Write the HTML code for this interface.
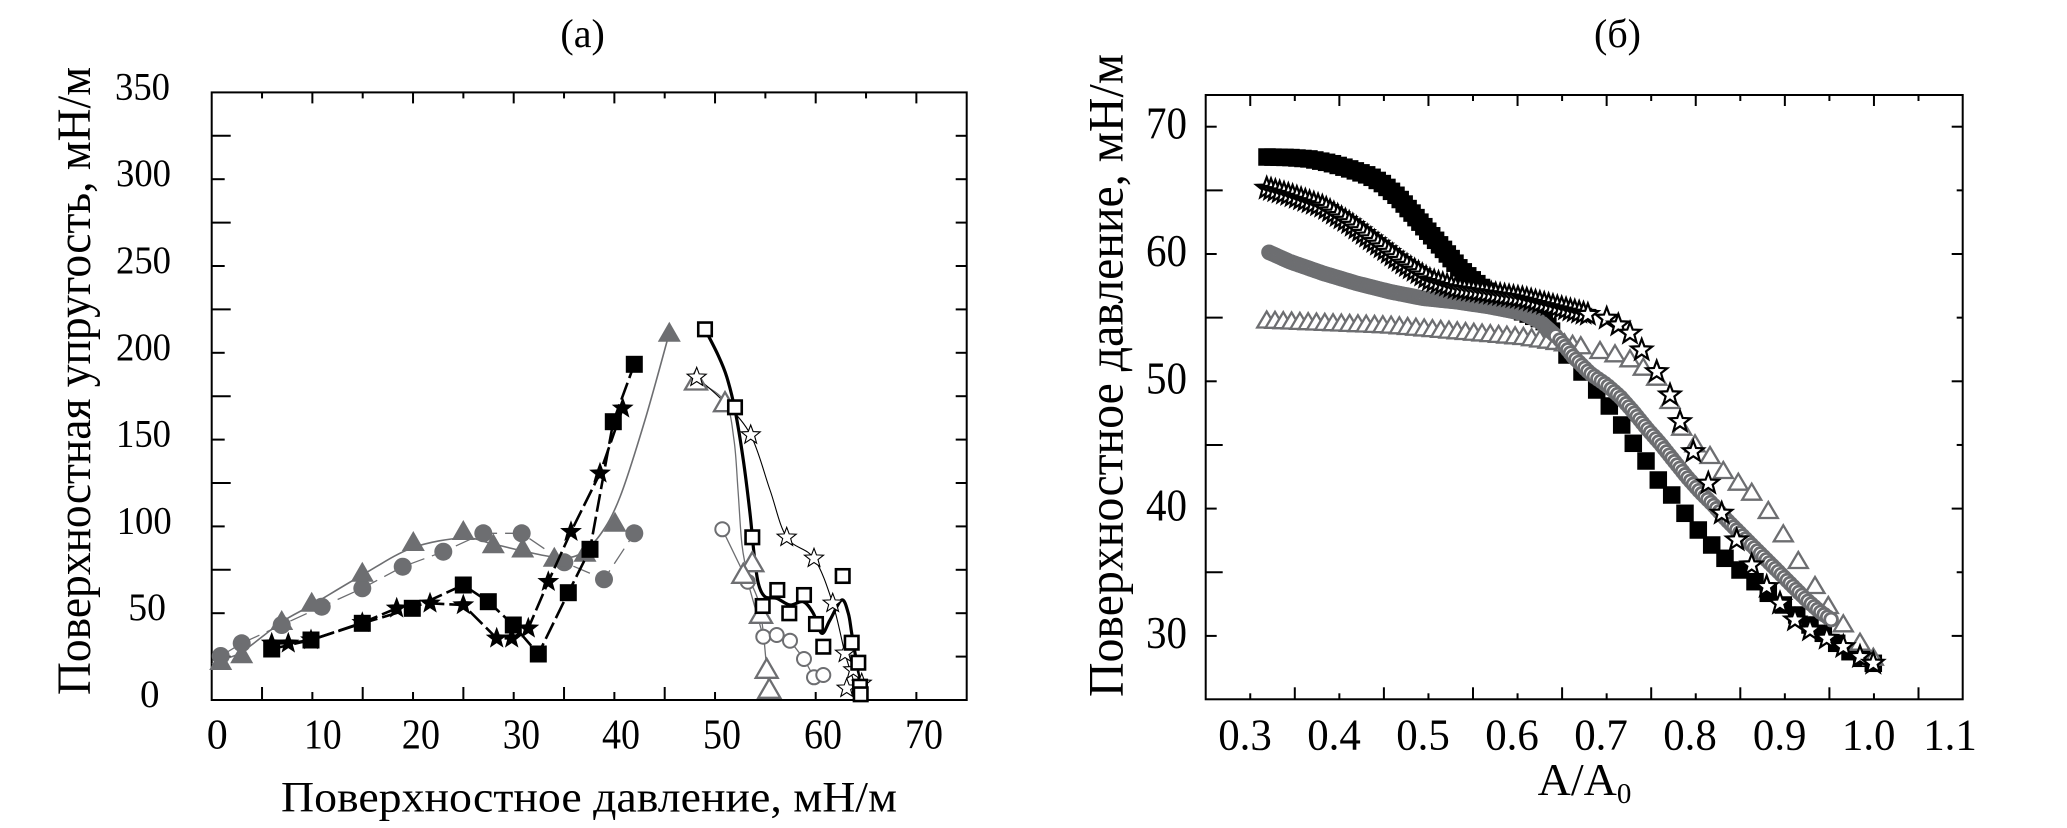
<!DOCTYPE html>
<html><head><meta charset="utf-8">
<style>
html,body{margin:0;padding:0;background:#fff;}
svg{display:block;}
text{font-family:"Liberation Serif","DejaVu Serif",serif;fill:#000;}
</style></head>
<body>
<svg id="s" xmlns="http://www.w3.org/2000/svg" width="2067" height="828" viewBox="0 0 2067 828">
<rect width="2067" height="828" fill="#fff"/>
<g id="frames" fill="none" stroke="#000" stroke-width="2">
<rect x="211.7" y="92.4" width="755" height="607.6"/>
<rect x="1205.7" y="95" width="757" height="604.3"/>
</g>
<g id="ticks" stroke="#000" stroke-width="2" fill="none"></g>
<g id="data"></g>

<!-- Left panel text -->
<g font-family="Liberation Serif, DejaVu Serif, serif">
<text x="582.6" y="47" font-size="40" text-anchor="middle">(a)</text>
<g font-size="39">
<text x="115" y="99.4" textLength="55" lengthAdjust="spacingAndGlyphs">350</text>
<text x="116" y="186.2" textLength="55" lengthAdjust="spacingAndGlyphs">300</text>
<text x="116" y="273" textLength="55" lengthAdjust="spacingAndGlyphs">250</text>
<text x="116" y="359.8" textLength="55" lengthAdjust="spacingAndGlyphs">200</text>
<text x="116" y="446.6" textLength="55" lengthAdjust="spacingAndGlyphs">150</text>
<text x="116.7" y="533.4" textLength="55" lengthAdjust="spacingAndGlyphs">100</text>
<text x="128.3" y="620.2" textLength="37.7" lengthAdjust="spacingAndGlyphs">50</text>
<text x="140" y="707">0</text>
</g>
<g font-size="42">
<text x="206.7" y="748.3">0</text>
<text x="304" y="748.3" textLength="37.7" lengthAdjust="spacingAndGlyphs">10</text>
<text x="401.7" y="748.3" textLength="38.3" lengthAdjust="spacingAndGlyphs">20</text>
<text x="502.7" y="748.3" textLength="37.3" lengthAdjust="spacingAndGlyphs">30</text>
<text x="602" y="748.3" textLength="38" lengthAdjust="spacingAndGlyphs">40</text>
<text x="703" y="748.3" textLength="38" lengthAdjust="spacingAndGlyphs">50</text>
<text x="804" y="748.3" textLength="38" lengthAdjust="spacingAndGlyphs">60</text>
<text x="905" y="748.3" textLength="38" lengthAdjust="spacingAndGlyphs">70</text>
</g>
<text x="281" y="811.7" font-size="43" textLength="616" lengthAdjust="spacingAndGlyphs">Поверхностное давление, мН/м</text>
<text transform="translate(90,695) rotate(-90)" x="0" y="0" font-size="48" textLength="628" lengthAdjust="spacingAndGlyphs">Поверхностная упругость, мН/м</text>

<!-- Right panel text -->
<text x="1617.5" y="47" font-size="40" text-anchor="middle">(б)</text>
<g font-size="45">
<text x="1146" y="138.7" textLength="41" lengthAdjust="spacingAndGlyphs">70</text>
<text x="1146" y="266" textLength="41" lengthAdjust="spacingAndGlyphs">60</text>
<text x="1146" y="393.3" textLength="41" lengthAdjust="spacingAndGlyphs">50</text>
<text x="1146" y="520.6" textLength="41" lengthAdjust="spacingAndGlyphs">40</text>
<text x="1146" y="647.9" textLength="41" lengthAdjust="spacingAndGlyphs">30</text>
</g>
<g font-size="44">
<text x="1218.2" y="749.3" textLength="53.6" lengthAdjust="spacingAndGlyphs">0.3</text>
<text x="1307.2" y="749.3" textLength="53.6" lengthAdjust="spacingAndGlyphs">0.4</text>
<text x="1396.2" y="749.3" textLength="53.6" lengthAdjust="spacingAndGlyphs">0.5</text>
<text x="1485.2" y="749.3" textLength="53.6" lengthAdjust="spacingAndGlyphs">0.6</text>
<text x="1574.2" y="749.3" textLength="53.6" lengthAdjust="spacingAndGlyphs">0.7</text>
<text x="1663.2" y="749.3" textLength="53.6" lengthAdjust="spacingAndGlyphs">0.8</text>
<text x="1752.9" y="749.3" textLength="53.6" lengthAdjust="spacingAndGlyphs">0.9</text>
<text x="1841.9" y="749.3" textLength="53.6" lengthAdjust="spacingAndGlyphs">1.0</text>
<text x="1923.2" y="749.3" textLength="53.6" lengthAdjust="spacingAndGlyphs">1.1</text>
</g>
<text x="1537.6" y="795" font-size="46">A/A<tspan font-size="29" dy="8">0</tspan></text>
<text transform="translate(1122.5,697) rotate(-90)" x="0" y="0" font-size="50" textLength="643" lengthAdjust="spacingAndGlyphs">Поверхностное давление, мН/м</text>
</g>
</svg>
<script>
(function(){
const NS='http://www.w3.org/2000/svg';
const D=document.getElementById('data');
const TK=document.getElementById('ticks');
const G='#6d6e71';
function el(tag,attrs,parent){const e=document.createElementNS(NS,tag);for(const k in attrs)e.setAttribute(k,attrs[k]);(parent||D).appendChild(e);return e;}
function A(a,b){return Object.assign({},a,b);}
function resample(pts,step){
  const out=[[pts[0][0],pts[0][1]]];let carry=0;
  for(let i=1;i<pts.length;i++){
    const x0=pts[i-1][0],y0=pts[i-1][1],x1=pts[i][0],y1=pts[i][1];
    const L=Math.hypot(x1-x0,y1-y0);if(L===0)continue;
    let t=step-carry;
    while(t<=L){out.push([x0+(x1-x0)*t/L,y0+(y1-y0)*t/L]);t+=step;}
    carry=L-(t-step);
  }
  return out;
}
function smooth(p){
  let d='M'+p[0][0]+','+p[0][1];
  for(let i=0;i<p.length-1;i++){
    const p0=p[i-1]||p[i],p1=p[i],p2=p[i+1],p3=p[i+2]||p2;
    const c1=[(p1[0]+(p2[0]-p0[0])/6).toFixed(2),(p1[1]+(p2[1]-p0[1])/6).toFixed(2)];
    const c2=[(p2[0]-(p3[0]-p1[0])/6).toFixed(2),(p2[1]-(p3[1]-p1[1])/6).toFixed(2)];
    d+='C'+c1.join(',')+' '+c2.join(',')+' '+p2[0]+','+p2[1];
  }
  return d;
}
function poly(p){return 'M'+p.map(q=>q[0]+','+q[1]).join('L');}
function sq(x,y,s,a){return el('rect',A({x:(x-s/2).toFixed(2),y:(y-s/2).toFixed(2),width:s,height:s},a));}
function tri(x,y,w,h,a){return el('polygon',A({points:x+','+(y-h/2)+' '+(x+w/2)+','+(y+h/2)+' '+(x-w/2)+','+(y+h/2)},a));}
function circ(x,y,r,a){return el('circle',A({cx:x.toFixed(2),cy:y.toFixed(2),r:r},a));}
function star(x,y,R,ri,a){const p=[];for(let i=0;i<10;i++){const r=i%2?ri:R;const an=-Math.PI/2+i*Math.PI/5;p.push((x+r*Math.cos(an)).toFixed(2)+','+(y+r*Math.sin(an)).toFixed(2));}return el('polygon',A({points:p.join(' ')},a));}
function line(x1,y1,x2,y2){el('line',{x1:x1,y1:y1,x2:x2,y2:y2},TK);}

/* ---------- ticks left panel ---------- */
(function(){
  const L=211.7,R=966.7,T=92.4,B=700;
  const dy=(B-T)/14,dx=(R-L)/15;
  for(let k=1;k<=13;k++){const y=B-k*dy;line(L,y,L+(k%2?19:13),y);line(R,y,R-11,y);}
  for(let j=1;j<=14;j++){const x=L+j*dx;line(x,B,x,B-(j%2?13:8));line(x,T,x,T+(j%2?6:11));}
})();
/* ---------- ticks right panel ---------- */
(function(){
  const L=1205.7,R=1962.7,T=95,B=699.3;
  for(let i=1;i<=16;i++){const x=L+i*0.05*891;line(x,T,x,T+(i%2?11:6));line(x,B,x,B-(i%2?6:12));}
  for(let v=30;v<=70;v+=5){const y=126.7+(70-v)*12.73;const odd=(v%10)!==0;line(L,y,L+(odd?17:11),y);line(R,y,R-(odd?6:11),y);}
})();

/* ---------- left panel data ---------- */
const GT=[[220.7,660],[241.7,653.3],[281.7,620],[311.7,601.7],[362.3,571.7],[413.3,541],[463.3,530],[493.3,543.3],[522.7,547.5],[554.3,556.7],[585,551.7],[615,521.7],[669.3,331.7]];
const GC=[[220.7,656],[241.7,643.3],[281.7,625],[321.7,606.7],[362.3,588.3],[402.7,566.7],[443.3,551.7],[483.3,533.3],[521.7,533.3],[564.3,562.3],[604,579.3],[634.3,533.3]];
const BS=[[271.7,649],[311,640],[362.3,623.3],[412.3,608.3],[463.3,585],[488.3,601.7],[513.3,625],[538.3,654],[568.3,592.7],[590,549.3],[613.3,421.7],[634.3,364.3]];
const BST=[[271.7,643.3],[288.3,643.3],[311,640],[362.3,622.7],[396.7,608.3],[430,603.3],[463.3,605],[496.7,638.3],[511.7,638.3],[528.3,628.3],[548.3,581.7],[571,531.7],[600,473.3],[622.7,408.3]];
const OS=[[705,329.3],[735,407.3],[752.3,537.3],[762.7,606],[777.3,590],[789.3,613.3],[804,595],[816,624],[823.3,646.7],[842.7,576],[851.7,642.7],[858.3,662.7],[860,686.7],[860.7,694.3]];
const OST=[[696.7,377.3],[750.7,435],[786.7,537.3],[814,558.3],[832.7,603.3],[845,653.3],[853.3,670],[846.7,688.3],[861.7,683.3]];
const OT=[[696,380],[725,401.7],[752.3,561.7],[743.3,573.3],[761,613.3],[766.7,668.3],[769.3,688.3]];
const OC=[[722.3,529.3],[747.7,581.7],[763.3,636.7],[776.7,635],[790,640.7],[804,659],[814,677.3],[823.3,675]];

el('path',{d:smooth([[212,664],[220.7,660],[241.7,652],[281.7,622],[311.7,605],[362.3,575],[412,548],[463,538],[493,544],[523,551],[554,557],[578,555],[600,535],[620,497],[645,420],[669.3,333]]),fill:'none',stroke:G,'stroke-width':1.6});
el('path',{d:poly(GC),fill:'none',stroke:G,'stroke-width':1.3,'stroke-dasharray':'18 8'});
GC.forEach(p=>circ(p[0],p[1],9,{fill:G}));
GT.forEach(p=>tri(p[0],p[1],23,20,{fill:G}));
el('path',{d:poly(BS),fill:'none',stroke:'#000','stroke-width':2.6,'stroke-dasharray':'18 5'});
el('path',{d:poly(BST),fill:'none',stroke:'#000','stroke-width':2.6,'stroke-dasharray':'18 5'});
BS.forEach(p=>sq(p[0],p[1],17,{fill:'#000'}));
BST.forEach(p=>star(p[0],p[1],11.5,4.8,{fill:'#000'}));

el('path',{d:poly(OC),fill:'none',stroke:G,'stroke-width':1.3});
el('path',{d:smooth([[696,380],[725,401.7],[734,440],[738,490],[742,545],[748,575],[758,600],[763,630],[766.7,668.3],[769.3,690]]),fill:'none',stroke:G,'stroke-width':1.3});
el('path',{d:smooth([[696.7,377.3],[724,402],[750.7,435],[770,490],[786.7,537.3],[814,558.3],[832.7,603.3],[845,653.3],[853.3,680],[857,697]]),fill:'none',stroke:'#000','stroke-width':1.1});
el('path',{d:smooth([[705,329.3],[718,355],[726.7,376.7],[735,410],[743.3,460],[750,513.3],[754,553.3],[758.3,583.3],[765,596.7],[776.7,598.3],[790,605],[803.3,601.7],[813.3,613.3],[821.7,633.3],[830,620],[841.7,600],[848.3,613.3],[851.7,633.3],[856.7,663.3],[861.7,696.7]]),fill:'none',stroke:'#000','stroke-width':3.2});
OC.forEach(p=>circ(p[0],p[1],7,{fill:'#fff',stroke:G,'stroke-width':2}));
OT.forEach(p=>tri(p[0],p[1],22,19,{fill:'#fff',stroke:G,'stroke-width':2.3,'stroke-linejoin':'miter'}));
OST.forEach(p=>star(p[0],p[1],10,4.2,{fill:'#fff',stroke:'#000','stroke-width':1.1}));
OS.forEach(p=>sq(p[0],p[1],13.5,{fill:'#fff',stroke:'#000','stroke-width':2.6}));

/* ---------- right panel data ---------- */
// black squares
let SQ=[].concat(
  resample([[1267,157],[1290,157.5],[1310,159],[1330,163],[1350,169],[1370,176],[1383,184],[1398,197],[1412,213],[1428,231.5],[1444,250],[1459,268],[1473,280.5],[1487,292],[1495,298],[1523,312],[1543,320],[1553,333]],6),
  [[1567,355],[1582,372],[1596.7,390],[1609.3,406],[1621.7,425],[1633.3,443.3],[1646,461],[1658.3,480],[1671.7,495],[1685,513.3],[1698.3,530],[1711.7,545],[1725,558.3],[1740,570],[1755,581.7],[1768.3,593.3],[1783.3,605],[1796.7,615],[1810,625],[1823.3,633.3],[1836.7,643.3],[1850,651.7],[1861.7,658.3],[1873.3,663.3]]
);
SQ.forEach(p=>sq(p[0],p[1],17.5,{fill:'#000'}));
// triangles
let TR=[].concat(
  resample([[1266.7,319.5],[1390,324.5],[1523.3,336],[1556.7,341],[1585,346]],8.3),
  [[1600,350],[1615,353.3],[1630,358.3],[1643.3,366.7],[1656.7,376.7],[1670,400],[1681.7,426.7],[1695,443.3],[1710,455],[1723.3,470],[1738.3,481.7],[1751.7,491.7],[1768.3,510],[1783.3,533.3],[1798.3,560],[1815,585],[1828.3,605],[1843.3,623.3],[1860,641.7],[1873.3,656.7]]
);
TR.forEach(p=>tri(p[0],p[1],19,16,{fill:'#fff',stroke:G,'stroke-width':2.3}));
// circles
let CI=[].concat(
  resample([[1269,252.3],[1290,261.7],[1323.3,273.3],[1356.7,283.3],[1390,291.7],[1423.3,298.3],[1456.7,301.7],[1490,306.7],[1523.3,313.3],[1540,321.7],[1556.7,336.7]],2.5),
  resample([[1560,340],[1573.3,356.7],[1590,373.3],[1606.7,385],[1620,396.7],[1633.3,411.7],[1646.7,428.3],[1660,443.3],[1673.3,460],[1686.7,476.7],[1700,491.7],[1713.3,505],[1726.7,520],[1740,533.3],[1753.3,546.7],[1766.7,560],[1780,573.3],[1793.3,586.7],[1806.7,600],[1820,611.7],[1831.7,620]],4.2)
);
CI.forEach(p=>circ(p[0],p[1],6.4,{fill:'#fff',stroke:G,'stroke-width':2.8}));
// stars
let ST=[].concat(
  resample([[1266.7,188.3],[1290,195],[1323.3,206.7],[1350,223.3],[1376.7,243.3],[1403.3,263.3],[1430,280],[1456.7,288.3],[1490,293.3],[1523.3,298.3],[1556.7,306.7],[1590,315]],4.5),
  [[1606.7,318.3],[1618.3,325],[1630,333.3],[1641.7,350],[1656.7,371.7],[1670,395],[1680,421.7],[1693.3,451.7],[1708.3,483.3],[1721.7,513.3],[1736.7,540],[1751.7,565],[1766.7,586.7],[1780,603.3],[1795,620],[1810,630],[1826.7,638.3],[1843.3,646.7],[1860,656.7],[1873.3,663.3]]
);
ST.forEach(p=>star(p[0],p[1],11,4.6,{fill:'#fff',stroke:'#000','stroke-width':2.2,'stroke-linejoin':'miter'}));
})();
</script>
</body></html>
